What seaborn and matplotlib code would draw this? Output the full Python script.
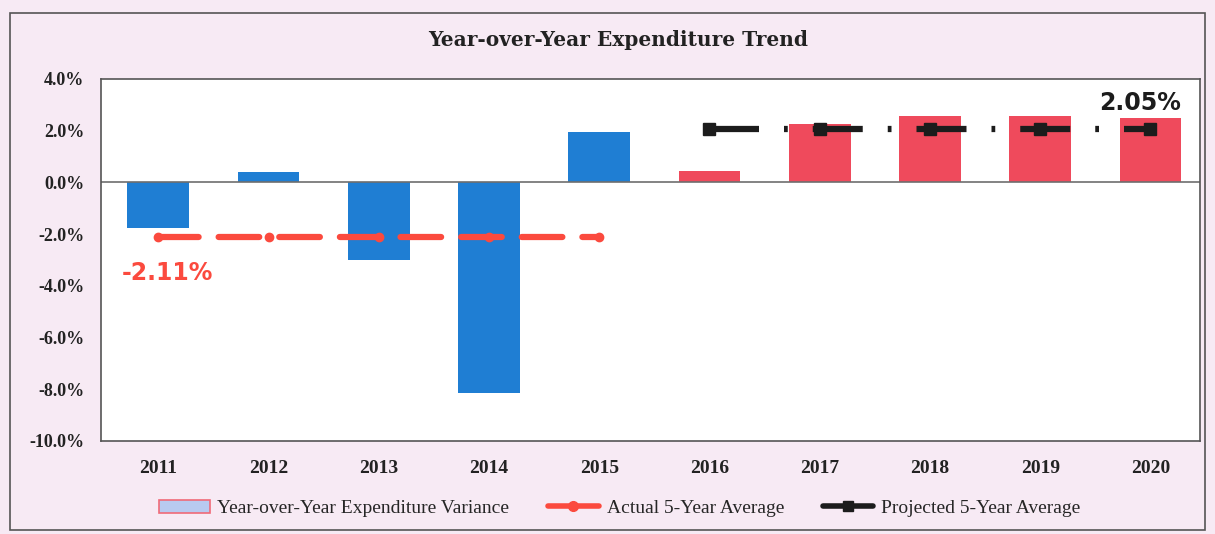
import matplotlib
matplotlib.use("Agg")
import matplotlib.pyplot as plt
from matplotlib.patches import Patch, Rectangle
from matplotlib.lines import Line2D
import seaborn as sns
import pandas as pd

years = ["2011", "2012", "2013", "2014", "2015", "2016", "2017", "2018", "2019", "2020"]
variance = [-1.75, 0.40, -3.00, -8.15, 1.95, 0.45, 2.25, 2.55, 2.55, 2.50]
actual_years = ["2011", "2012", "2013", "2014", "2015"]
projected_years = ["2016", "2017", "2018", "2019", "2020"]
actual_avg_label = "-2.11%"
projected_avg_label = "2.05%"
y_ticks = [-10, -8, -6, -4, -2, 0, 2, 4]

actual_avg = sum(variance[:5]) / 5
projected_avg = sum(variance[5:]) / 5

blue = "#1f7ed3"
red_bar = "#ef4a5c"
red_line = "#fb4a3e"
dark = "#1c1c1c"
bg = "#f7eaf4"

sns.set_theme(style="white")
plt.rcParams["font.family"] = ["DejaVu Serif"]

fig = plt.figure(figsize=(12.15, 5.34), dpi=100, facecolor=bg)
ax = fig.add_axes([0.0831, 0.1742, 0.9046, 0.6780])
ax.set_facecolor("white")

df = pd.DataFrame({"year": years, "variance": variance})
palette = {y: (blue if i < 5 else red_bar) for i, y in enumerate(years)}
sns.barplot(data=df, x="year", y="variance", hue="year", palette=palette,
            width=0.56, legend=False, ax=ax, saturation=1, edgecolor="none")

pos = {y: i for i, y in enumerate(years)}
ax.axhline(0, color="#6e6e6e", lw=1.2, zorder=1)

# Five-year averages
ax.plot([pos[y] for y in actual_years], [actual_avg] * 5, color=red_line, lw=4.5,
        dashes=(6.5, 3.2), marker="o", ms=6, zorder=3, dash_capstyle="round")
ax.plot([pos[y] for y in projected_years], [projected_avg] * 5, color=dark, lw=4.5,
        dashes=(8, 4, 0.6, 4), marker="s", ms=8, zorder=3, dash_capstyle="butt")

ax.text(pos["2011"] - 0.33, actual_avg - 1.38, actual_avg_label, color=red_line,
        fontsize=17, fontweight="bold", family="DejaVu Sans", ha="left", va="center")
ax.text(pos["2020"] + 0.28, 3.05, projected_avg_label, color=dark,
        fontsize=17, fontweight="bold", family="DejaVu Sans", ha="right", va="center")

ax.set_xlim(-0.52, 9.45)
ax.set_ylim(-10, 4)
ax.set_yticks(y_ticks)
ax.set_yticklabels([f"{v:.1f}%" for v in y_ticks], fontsize=13, fontweight="bold",
                   family="Liberation Serif", color="#222222")
ax.set_xticks(range(len(years)))
ax.set_xticklabels(years, fontsize=14, fontweight="bold", family="Liberation Serif",
                   color="#222222")
ax.tick_params(axis="x", length=0, pad=14)
ax.tick_params(axis="y", length=0, pad=12)
ax.set_xlabel("")
ax.set_ylabel("")
for s in ax.spines.values():
    s.set_color("#555555")
    s.set_linewidth(1.2)

fig.text(0.509, 0.925, "Year-over-Year Expenditure Trend", ha="center", va="center",
         fontsize=14.5, fontweight="bold", family="DejaVu Serif", color="#222222")

handles = [
    Patch(facecolor="#b8caf0", edgecolor="#f06a78", linewidth=1.2),
    Line2D([], [], color=red_line, lw=4, marker="o", ms=7),
    Line2D([], [], color=dark, lw=4, marker="s", ms=7),
]
labels = ["Year-over-Year Expenditure Variance", "Actual 5-Year Average",
          "Projected 5-Year Average"]
fig.legend(handles, labels, loc="center", bbox_to_anchor=(0.51, 0.048), ncol=3,
           frameon=False, prop={"family": "Liberation Serif", "size": 14},
           handlelength=2.6, columnspacing=2.0, handletextpad=0.4)

# Outer frame of the chart
fig.patches.append(Rectangle((0.008, 0.008), 0.984, 0.968, transform=fig.transFigure,
                             fill=False, edgecolor="#555555", lw=1.2))

fig.savefig("out.png", dpi=100, facecolor=bg)
